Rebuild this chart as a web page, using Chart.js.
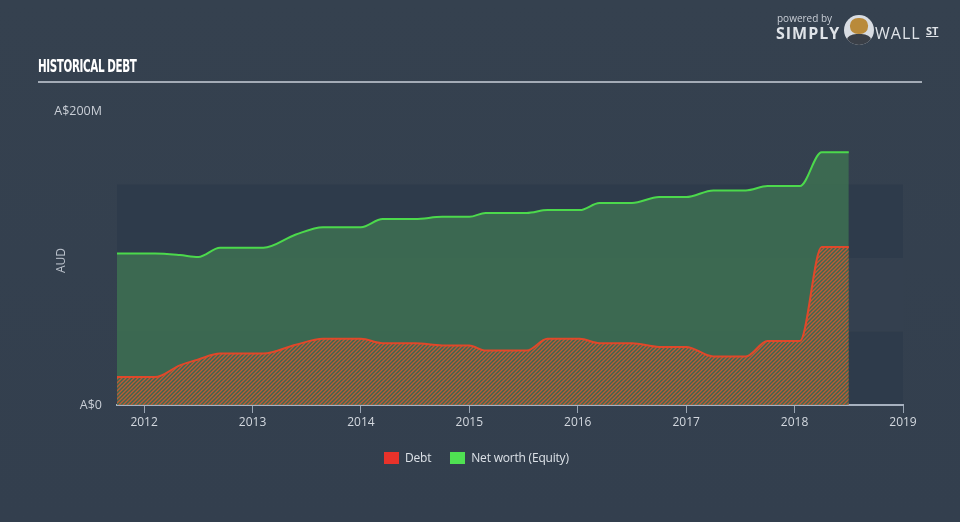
<!DOCTYPE html>
<html>
<head>
<meta charset="utf-8">
<script src="https://cdn.jsdelivr.net/npm/chart.js@4.4.1/dist/chart.umd.min.js"></script>
<style>
  html, body { margin: 0; padding: 0; }
  body {
    width: 960px; height: 522px; overflow: hidden;
    background: linear-gradient(180deg, #35414f 0%, #333f4e 100%);
    font-family: "Open Sans", "DejaVu Sans", sans-serif;
    position: relative;
  }
  #wrap { position: absolute; left: 0; top: 0; width: 960px; height: 522px; }
  .title {
    position: absolute; left: 38px; top: 55px;
    font-family: "DejaVu Sans Condensed", "Liberation Sans Narrow", sans-serif;
    font-weight: bold; font-size: 18px; color: #ffffff; letter-spacing: -0.6px;
    transform: scaleX(0.64); transform-origin: left;
  }
  .rule { position: absolute; left: 38px; top: 81px; width: 884px; height: 2px; background: #a3abb6; }
  .aud {
    position: absolute; left: 52px; color: #b9c0ca; font-size: 12px;
    transform: rotate(-90deg); transform-origin: left top; top: 273px;
  }
  .legend { position: absolute; top: 449px; left: 384px; font-size: 12px; color: #dde2e8; display: flex; align-items: center; }
  .legend .sw { width: 15px; height: 12px; display: inline-block; margin-right: 6px; }
  .legend .item { display: flex; align-items: center; margin-right: 19px; }
  .legend .txt { letter-spacing: -0.2px; }
  .logo { position: absolute; left: 776px; top: 11px; color: #dfe3e8; }
  .logo .pb { font-size: 10px; position: absolute; left: 1px; top: 0px; white-space: nowrap; color: #c9ced6; }
  .logo .simply { font-size: 16px; font-weight: bold; position: absolute; left: 0; top: 11px; letter-spacing: 1px; }
  .logo .wall { font-size: 16px; position: absolute; left: 99px; top: 11px; letter-spacing: 1px; }
  .logo .st { font-size: 11px; font-weight: bold; position: absolute; left: 150px; top: 12px; text-decoration: underline; }
  .logo .bull { position: absolute; left: 68px; top: 4px; width: 30px; height: 30px; border-radius: 50%; background: #d8dce2; overflow: hidden; }
  .logo .bull .head { position: absolute; left: 6px; top: 3px; width: 18px; height: 16px; border-radius: 45%; background: #b98a3a; }
  .logo .bull .body { position: absolute; left: 3px; top: 19px; width: 24px; height: 14px; border-radius: 40%; background: #3a3f47; }
</style>
</head>
<body>
<div id="wrap"><canvas id="chart" width="960" height="522"></canvas></div>
<div class="title">HISTORICAL DEBT</div>
<div class="rule"></div>
<div class="aud">AUD</div>
<div class="legend">
  <div class="item"><span class="sw" style="background:#e8322a"></span><span class="txt">Debt</span></div>
  <div class="item"><span class="sw" style="background:#4fe052"></span><span class="txt">Net worth (Equity)</span></div>
</div>
<div class="logo">
  <span class="pb">powered by</span>
  <span class="simply">SIMPLY</span>
  <span class="bull"><span class="head"></span><span class="body"></span></span>
  <span class="wall">WALL</span>
  <span class="st">ST</span>
</div>
<script>
// ── Data (A$ millions) ───────────────────────────────────────
const dates  = [2011.75, 2012.1, 2012.33, 2012.5, 2012.7, 2013.1, 2013.4, 2013.65, 2014.0, 2014.2,
                2014.5, 2014.75, 2015.0, 2015.15, 2015.53, 2015.72, 2016.02, 2016.2, 2016.5, 2016.75,
                2017.0, 2017.25, 2017.55, 2017.75, 2018.05, 2018.25, 2018.5];
const debt   = [19, 19, 27, 31, 35, 35, 41, 45, 45, 42,
                42, 40.5, 40.5, 37, 37, 45, 45, 42, 42, 39.5,
                39.5, 33, 33, 43.5, 43.5, 107.5, 107.5];
const equity = [103, 103, 102, 100.7, 107, 107, 116, 121, 121, 126.5,
                126.5, 128, 128, 130.6, 130.6, 132.6, 132.6, 137.4, 137.4, 141.5,
                141.5, 146, 146, 149, 149, 172, 172];
const yearTicks = [2012, 2013, 2014, 2015, 2016, 2017, 2018, 2019];
const valueTicks = [0, 200];
const bandEdges = [0, 50, 100, 150];

// ── Hatch pattern for debt area ──────────────────────────────
function makeHatch() {
    const c = document.createElement('canvas');
    c.width = 4; c.height = 4;
    const g = c.getContext('2d');
    g.strokeStyle = 'rgba(222, 86, 46, 0.8)';
    g.lineWidth = 1.4;
    g.beginPath();
    g.moveTo(0, 4); g.lineTo(4, 0);
    g.moveTo(-1, 1); g.lineTo(1, -1);
    g.moveTo(3, 5); g.lineTo(5, 3);
    g.stroke();
    return g.createPattern(c, 'repeat');
}

// ── Background bands ─────────────────────────────────────────
const bands = {
    id: 'bands',
    beforeDraw(chart) {
        const { ctx, chartArea: a, scales: { y } } = chart;
        ctx.save();
        for (let i = 0; i < bandEdges.length - 1; i++) {
            const top = y.getPixelForValue(bandEdges[i + 1]);
            const bot = y.getPixelForValue(bandEdges[i]);
            ctx.fillStyle = i % 2 === 0 ? '#2e3b4b' : '#34404f';
            ctx.fillRect(a.left, top, a.right - a.left, bot - top);
        }
        ctx.restore();
    }
};

const toPoints = arr => arr.map((v, i) => ({ x: dates[i], y: v }));

new Chart(document.getElementById('chart'), {
    type: 'line',
    data: {
        datasets: [
            {
                label: 'Debt',
                data: toPoints(debt),
                borderColor: '#e0482a',
                borderWidth: 2,
                backgroundColor: makeHatch(),
                fill: 'origin',
                pointRadius: 0,
                cubicInterpolationMode: 'monotone'
            },
            {
                label: 'Net worth (Equity)',
                data: toPoints(equity),
                borderColor: '#4cd94c',
                borderWidth: 2,
                backgroundColor: 'rgba(62, 110, 82, 0.88)',
                fill: 'origin',
                pointRadius: 0,
                cubicInterpolationMode: 'monotone'
            }
        ]
    },
    options: {
        responsive: false,
        animation: false,
        layout: { padding: { top: 111, right: 57, bottom: 87, left: 0 } },
        plugins: { legend: { display: false }, tooltip: { enabled: false } },
        scales: {
            x: {
                type: 'linear',
                min: 2011.75,
                max: 2019,
                afterBuildTicks: s => { s.ticks = yearTicks.map(v => ({ value: v })); },
                afterFit: s => { s.height = 30; },
                grid: { display: true, drawOnChartArea: false, color: '#9aa5b3', tickLength: 8 },
                border: { color: '#a7b1bf', width: 2 },
                ticks: { color: '#d3d8df', font: { size: 12, family: "'Open Sans'" }, padding: 2,
                         callback: v => String(v) }
            },
            y: {
                min: 0,
                max: 200,
                afterBuildTicks: s => { s.ticks = valueTicks.map(v => ({ value: v })); },
                afterFit: s => { s.width = 117; },
                grid: { display: false },
                border: { display: false },
                ticks: { color: '#c9ced6', font: { size: 12.5, family: "'Open Sans'" }, padding: 7,
                         callback: v => v === 0 ? 'A$0' : 'A$' + v + 'M' }
            }
        }
    },
    plugins: [bands]
});
</script>
</body>
</html>
